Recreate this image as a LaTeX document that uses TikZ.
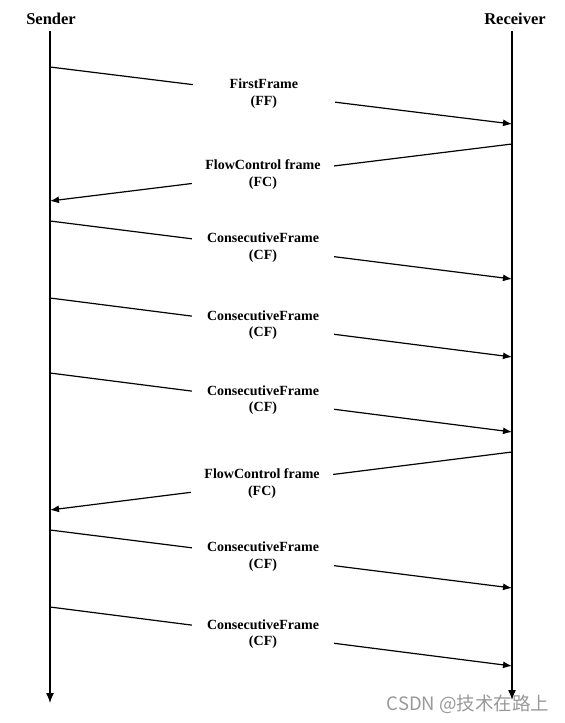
\documentclass[tikz,border=0pt]{standalone}
\usepackage{fontspec}
\setmainfont{Liberation Serif}
\newfontfamily\cjk{Noto Sans CJK SC}
\usetikzlibrary{arrows.meta}
\begin{document}
\begin{tikzpicture}[x=1pt,y=-1pt,
  life/.style={line width=1.3pt,-{Latex[length=10pt,width=8pt]}},
  msg/.style={line width=1.2pt,-{Latex[length=9pt,width=7pt]}},
  lbl/.style={fill=white,minimum width=142pt,inner sep=1pt,align=center,
    font=\bfseries\fontsize{14}{16.5}\selectfont},
  head/.style={font=\bfseries\fontsize{16.5}{19}\selectfont},
  wm/.style={font=\cjk\fontsize{18.5}{20}\selectfont,text=black!40}]
\useasboundingbox (0,0) rectangle (565,723);
\node[head] (snd) at (51,19) {Sender};
\node[head] (rcv) at (515,19) {Receiver};
\coordinate (stop) at (50,31);
\coordinate (sbot) at (50,703);
\coordinate (rtop) at (512,31);
\coordinate (rbot) at (512,700);
\draw[life] (stop) -- (sbot);
\draw[life] (rtop) -- (rbot);
% endpoints
\coordinate (s1) at (50,67);  \coordinate (r1) at (512,124);
\coordinate (r2) at (512,144); \coordinate (s2) at (50,201);
\coordinate (s3) at (50,221); \coordinate (r3) at (512,279);
\coordinate (s4) at (50,298); \coordinate (r4) at (512,357);
\coordinate (s5) at (50,373); \coordinate (r5) at (512,432);
\coordinate (r6) at (512,452); \coordinate (s6) at (50,510);
\coordinate (s7) at (50,530); \coordinate (r7) at (512,588);
\coordinate (s8) at (50,607); \coordinate (r8) at (512,666);
\draw[msg] (s1) -- node[lbl,pos=.463] (l1) {FirstFrame\\(FF)} (r1);
\draw[msg] (r2) -- node[lbl,pos=.539] (l2) {FlowControl frame\\(FC)} (s2);
\draw[msg] (s3) -- node[lbl,pos=.461] (l3) {ConsecutiveFrame\\(CF)} (r3);
\draw[msg] (s4) -- node[lbl,pos=.461] (l4) {ConsecutiveFrame\\(CF)} (r4);
\draw[msg] (s5) -- node[lbl,pos=.461] (l5) {ConsecutiveFrame\\(CF)} (r5);
\draw[msg] (r6) -- node[lbl,pos=.541] (l6) {FlowControl frame\\(FC)} (s6);
\draw[msg] (s7) -- node[lbl,pos=.461] (l7) {ConsecutiveFrame\\(CF)} (r7);
\draw[msg] (s8) -- node[lbl,pos=.461] (l8) {ConsecutiveFrame\\(CF)} (r8);
\node[wm,anchor=east] (wmk) at (553,704) {CSDN @技术在路上};
\end{tikzpicture}
\end{document}
